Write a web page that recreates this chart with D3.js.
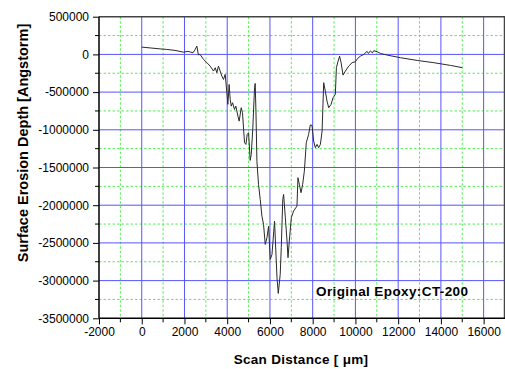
<!DOCTYPE html>
<html>
<head>
<meta charset="utf-8">
<script src="https://cdn.jsdelivr.net/npm/d3@7"></script>
<style>
  html, body { margin: 0; padding: 0; background: #fff; }
  svg { display: block; }
  text { font-family: "Liberation Sans", Arial, sans-serif; }
</style>
</head>
<body>
<svg id="chart" width="505" height="369"></svg>
<script>
// ---- data ----
const scanDistance = [0, 390, 860, 1170, 1560, 1950, 2170, 2400, 2500, 2580, 2650, 2730, 2890, 3050, 3200, 3360, 3440, 3515, 3590, 3670, 3750, 3825, 3905, 3985, 4030, 4090, 4140, 4190, 4250, 4340, 4405, 4500, 4560, 4655, 4715, 4810, 4875, 4935, 5000, 5075, 5125, 5195, 5280, 5310, 5345, 5390, 5465, 5545, 5625, 5700, 5780, 5860, 5935, 6015, 6095, 6215, 6330, 6390, 6480, 6530, 6600, 6640, 6720, 6800, 6845, 6905, 7000, 7105, 7265, 7310, 7375, 7455, 7530, 7610, 7700, 7810, 7890, 7970, 8045, 8125, 8205, 8280, 8360, 8440, 8515, 8590, 8670, 8750, 8860, 8955, 9060, 9110, 9190, 9260, 9330, 9420, 9530, 9685, 9845, 10000, 10105, 10235, 10390, 10545, 10610, 10700, 10795, 10855, 11015, 11170, 11485, 12110, 12890, 13670, 14450, 15000];
const erosionDepth = [97000, 86000, 73000, 66000, 53000, 30000, 40000, 22000, 66000, 110000, -7000, 0, -66000, -110000, -155000, -221000, -177000, -243000, -155000, -221000, -288000, -332000, -265000, -508000, -663000, -398000, -597000, -686000, -641000, -730000, -686000, -818000, -885000, -707000, -773000, -1171000, -1194000, -1061000, -1038000, -1406000, -1326000, -995000, -442000, -385000, -752000, -1415000, -1724000, -1923000, -2145000, -2255000, -2520000, -2431000, -2281000, -2719000, -2653000, -2211000, -2962000, -3170000, -2918000, -2564000, -1923000, -1857000, -2166000, -2476000, -2696000, -2476000, -2166000, -2078000, -2012000, -1635000, -1724000, -1834000, -1724000, -1548000, -1171000, -1061000, -935000, -942000, -1150000, -1237000, -1194000, -1237000, -1194000, -1017000, -375000, -487000, -619000, -707000, -663000, -574000, -531000, -176000, -89000, -23000, -110000, -275000, -221000, -155000, -110000, -97000, -53000, -23000, 0, 40000, 13000, 46000, 20000, 49000, 36000, 13000, -9000, -44000, -80000, -110000, -146000, -176000];
const xTicks = [-2000, 0, 2000, 4000, 6000, 8000, 10000, 12000, 14000, 16000];
const yTicks = [500000, 0, -500000, -1000000, -1500000, -2000000, -2500000, -3000000, -3500000];
const xTitle = "Scan Distance [ \u03bcm]";
const yTitle = "Surface Erosion Depth [Angstorm]";
const legendLabel = "Original Epoxy:CT-200";

// ---- layout ----
const svg = d3.select("#chart");
const L = 99, R = 505, T = 16.7, B = 318.3;
const x = d3.scaleLinear().domain([-2000, 17000]).range([L, R]);
const y = d3.scaleLinear().domain([-3500000, 500000]).range([B, T]);

const xMinor = d3.range(-1000, 17000, 2000);
const yMinor = d3.range(-3250000, 500000, 500000);
const plainFmt = d => String(d);

// minor grid (green dotted)
const g = svg.append("g");
g.selectAll(".vmin").data(xMinor).enter().append("line")
  .attr("x1", d => x(d)).attr("x2", d => x(d)).attr("y1", T).attr("y2", B)
  .attr("stroke", "#55ee55").attr("stroke-width", 1).attr("stroke-dasharray", "2.5,2");
g.selectAll(".hmin").data(yMinor).enter().append("line")
  .attr("x1", L).attr("x2", R).attr("y1", d => y(d)).attr("y2", d => y(d))
  .attr("stroke", "#55ee55").attr("stroke-width", 1).attr("stroke-dasharray", "2.5,2");
// major grid (blue)
g.selectAll(".vmaj").data(xTicks.filter(d => d > -2000)).enter().append("line")
  .attr("x1", d => x(d)).attr("x2", d => x(d)).attr("y1", T).attr("y2", B)
  .attr("stroke", "#5555ff").attr("stroke-width", 1);
g.selectAll(".hmaj").data(yTicks.filter(d => d > -3500000 && d < 500000)).enter().append("line")
  .attr("x1", L).attr("x2", R).attr("y1", d => y(d)).attr("y2", d => y(d))
  .attr("stroke", "#5555ff").attr("stroke-width", 1);

// data line
const line = d3.line().x((d, i) => x(scanDistance[i])).y(d => y(d));
svg.append("path").datum(erosionDepth)
  .attr("d", line).attr("fill", "none")
  .attr("stroke", "#2a2a2a").attr("stroke-width", 1);

// frame
svg.append("line").attr("x1", L).attr("x2", R).attr("y1", T).attr("y2", T)
  .attr("stroke", "#444").attr("stroke-width", 1.5);
svg.append("line").attr("x1", R - 0.5).attr("x2", R - 0.5).attr("y1", T).attr("y2", B)
  .attr("stroke", "#444").attr("stroke-width", 1.5);

// axes
const xAxis = d3.axisBottom(x).tickValues(xTicks).tickSize(6).tickPadding(3).tickFormat(plainFmt);
const gx = svg.append("g").attr("transform", `translate(0,${B})`).call(xAxis);
gx.selectAll(".minor").data(xMinor).enter().append("line")
  .attr("x1", d => x(d)).attr("x2", d => x(d)).attr("y1", 0).attr("y2", 4)
  .attr("stroke", "#000");
const yAxis = d3.axisLeft(y).tickValues(yTicks).tickSize(6).tickPadding(4).tickFormat(plainFmt);
const gy = svg.append("g").attr("transform", `translate(${L},0)`).call(yAxis);
gy.selectAll(".minor").data(yMinor).enter().append("line")
  .attr("x1", 0).attr("x2", -4).attr("y1", d => y(d)).attr("y2", d => y(d))
  .attr("stroke", "#000");

[gx, gy].forEach(a => {
  a.select(".domain").attr("stroke", "#000").attr("stroke-width", 1.5);
  a.selectAll("text").attr("font-family", "'Liberation Sans', Arial, sans-serif")
    .attr("font-size", 12).attr("fill", "#000");
  a.selectAll(".tick line").attr("stroke", "#000");
});
gx.select(".domain").attr("d", `M${L},0H${R}`);
gy.select(".domain").attr("d", `M0,${T}V${B}`);

// titles
svg.append("text").attr("x", 301).attr("y", 364).attr("text-anchor", "middle")
  .attr("font-size", 13.5).attr("font-weight", "bold").attr("letter-spacing", 0.3)
  .text(xTitle);
svg.append("text").attr("transform", "translate(27.5,143) rotate(-90)").attr("text-anchor", "middle")
  .attr("font-size", 14.5).attr("font-weight", "bold")
  .text(yTitle);

// label
svg.append("text").attr("x", 316).attr("y", 296)
  .attr("font-size", 13.5).attr("font-weight", "bold").attr("letter-spacing", 0.4)
  .text(legendLabel);
</script>
</body>
</html>
